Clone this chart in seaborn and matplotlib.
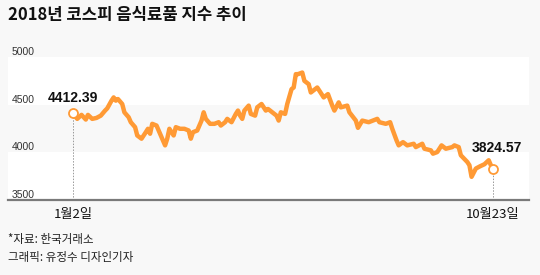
import matplotlib
matplotlib.use("Agg")
import matplotlib.pyplot as plt
import seaborn as sns
import pandas as pd
from matplotlib.transforms import blended_transform_factory

# ---- data (trading-day index from 2018-01-02, index value) ----
day_idx = [0, 2, 4, 6, 7, 9, 11, 13, 15, 16, 18, 19, 20, 21, 23, 24, 26, 27, 29, 30,
           32, 34, 35, 36, 37, 39, 41, 43, 44, 45, 47, 48, 50, 52, 54, 55, 56, 58, 60, 61,
           62, 64, 66, 68, 69, 71, 72, 74, 76, 77, 78, 79, 80, 82, 83, 85, 86, 88, 90, 91,
           92, 93, 95, 96, 97, 99, 100, 102, 103, 104, 105, 107, 108, 110, 111, 114, 115, 117, 119, 121,
           122, 124, 125, 128, 129, 132, 133, 135, 138, 142, 143, 146, 148, 149, 151, 152, 154, 156, 159, 160,
           163, 164, 167, 168, 170, 172, 174, 177, 178, 180, 181, 184, 185, 186, 188, 190, 192, 194, 195, 196]
index_values = [4412.39, 4351, 4393, 4344, 4393, 4351, 4361, 4385, 4438, 4461,
                4542, 4576, 4542, 4559, 4507, 4420, 4368, 4316, 4264, 4177,
                4143, 4211, 4247, 4195, 4299, 4281, 4177, 4073, 4143, 4247,
                4177, 4264, 4247, 4247, 4229, 4143, 4211, 4229, 4333, 4420,
                4351, 4299, 4299, 4316, 4281, 4316, 4351, 4316, 4403, 4438,
                4385, 4351, 4438, 4490, 4403, 4385, 4472, 4507, 4438, 4455,
                4438, 4420, 4385, 4333, 4420, 4403, 4507, 4663, 4680, 4820,
                4820, 4837, 4750, 4715, 4628, 4680, 4646, 4576, 4611, 4490,
                4438, 4524, 4472, 4490, 4420, 4333, 4257, 4333, 4316, 4351,
                4316, 4299, 4316, 4247, 4125, 4073, 4107, 4073, 4090, 4055,
                4090, 4038, 4021, 3986, 4003, 4073, 4038, 4055, 4073, 4055,
                3969, 3899, 3865, 3743, 3830, 3854, 3875, 3917, 3865, 3824.57]

y_ticks = [3500, 4000, 4500, 5000]
x_tick_pos = [0, 196]
x_tick_labels = ["1월2일", "10월23일"]
start_label = "4412.39"
end_label = "3824.57"

title = "2018년 코스피 음식료품 지수 추이"
source = "*자료: 한국거래소"
credit = "그래픽: 유정수 디자인기자"

df = pd.DataFrame({"day": day_idx, "value": index_values})

# ---- style ----
sns.set_style("white")
plt.rcParams['font.family'] = ['Noto Sans CJK KR', 'DejaVu Sans']

BG = "#f8f8f8"
ORANGE = "#ff9a35"

fig = plt.figure(figsize=(5.4, 2.75), dpi=100)
fig.patch.set_facecolor(BG)
ax = fig.add_axes([8/540, 75/275, 521/540, 143/275])
ax.set_facecolor(BG)

ax.set_ylim(3500, 5000)
ax.set_xlim(-30.3, 212.8)

# alternating bands
ax.axhspan(4500, 5000, color="white", zorder=0, lw=0)
ax.axhspan(3500, 4000, color="white", zorder=0, lw=0)

# dotted drop lines from endpoints
for i in (0, -1):
    ax.plot([day_idx[i], day_idx[i]], [3500, index_values[i]], color="#999999",
            lw=0.7, ls=(0, (1.5, 1.5)), zorder=1, clip_on=False)

sns.lineplot(data=df, x="day", y="value", color=ORANGE, linewidth=3.2, ax=ax,
             zorder=3, solid_joinstyle="round", solid_capstyle="round")

ends = df.iloc[[0, -1]]
ax.scatter(ends["day"], ends["value"], s=42, facecolor="white", edgecolor=ORANGE,
           linewidth=1.3, zorder=4)

# annotations
ax.annotate(start_label, (day_idx[0], index_values[0]), xytext=(0, 11),
            textcoords="offset points", ha="center", va="center",
            fontsize=10, fontweight="bold", family=["Liberation Sans"], color="#111111")
ax.annotate(end_label, (day_idx[-1], index_values[-1]), xytext=(3, 15),
            textcoords="offset points", ha="center", va="center",
            fontsize=10, fontweight="bold", family=["Liberation Sans"], color="#111111")

# y labels inside plot above gridline
trans = blended_transform_factory(ax.transAxes, ax.transData)
for t in y_ticks:
    ax.text(4/521, t, str(t), transform=trans, ha="left", va="bottom",
            fontsize=7.5, family=["Liberation Sans"], color="#333333")

# axes
for s in ["top", "right", "left"]:
    ax.spines[s].set_visible(False)
ax.spines["bottom"].set_color("#7a7a7a")
ax.spines["bottom"].set_linewidth(1.6)
ax.set_yticks([])
ax.set_xticks(x_tick_pos)
labels = ax.set_xticklabels(x_tick_labels, fontsize=9.5, color="#111111")
labels[1].set_x(-2)
ax.tick_params(axis="x", length=3, width=0.8, color="#555555", pad=3)
ax.set_xlabel("")
ax.set_ylabel("")

fig.text(8/540, 1 - 15/275, title, fontsize=12, fontweight="bold",
         ha="left", va="center", color="#111111")
fig.text(8/540, 1 - 239/275, source, fontsize=8.3, ha="left", va="center", color="#222222")
fig.text(8/540, 1 - 258/275, credit, fontsize=8.3, ha="left", va="center", color="#222222")

fig.savefig("out.png", dpi=100, facecolor=BG)
